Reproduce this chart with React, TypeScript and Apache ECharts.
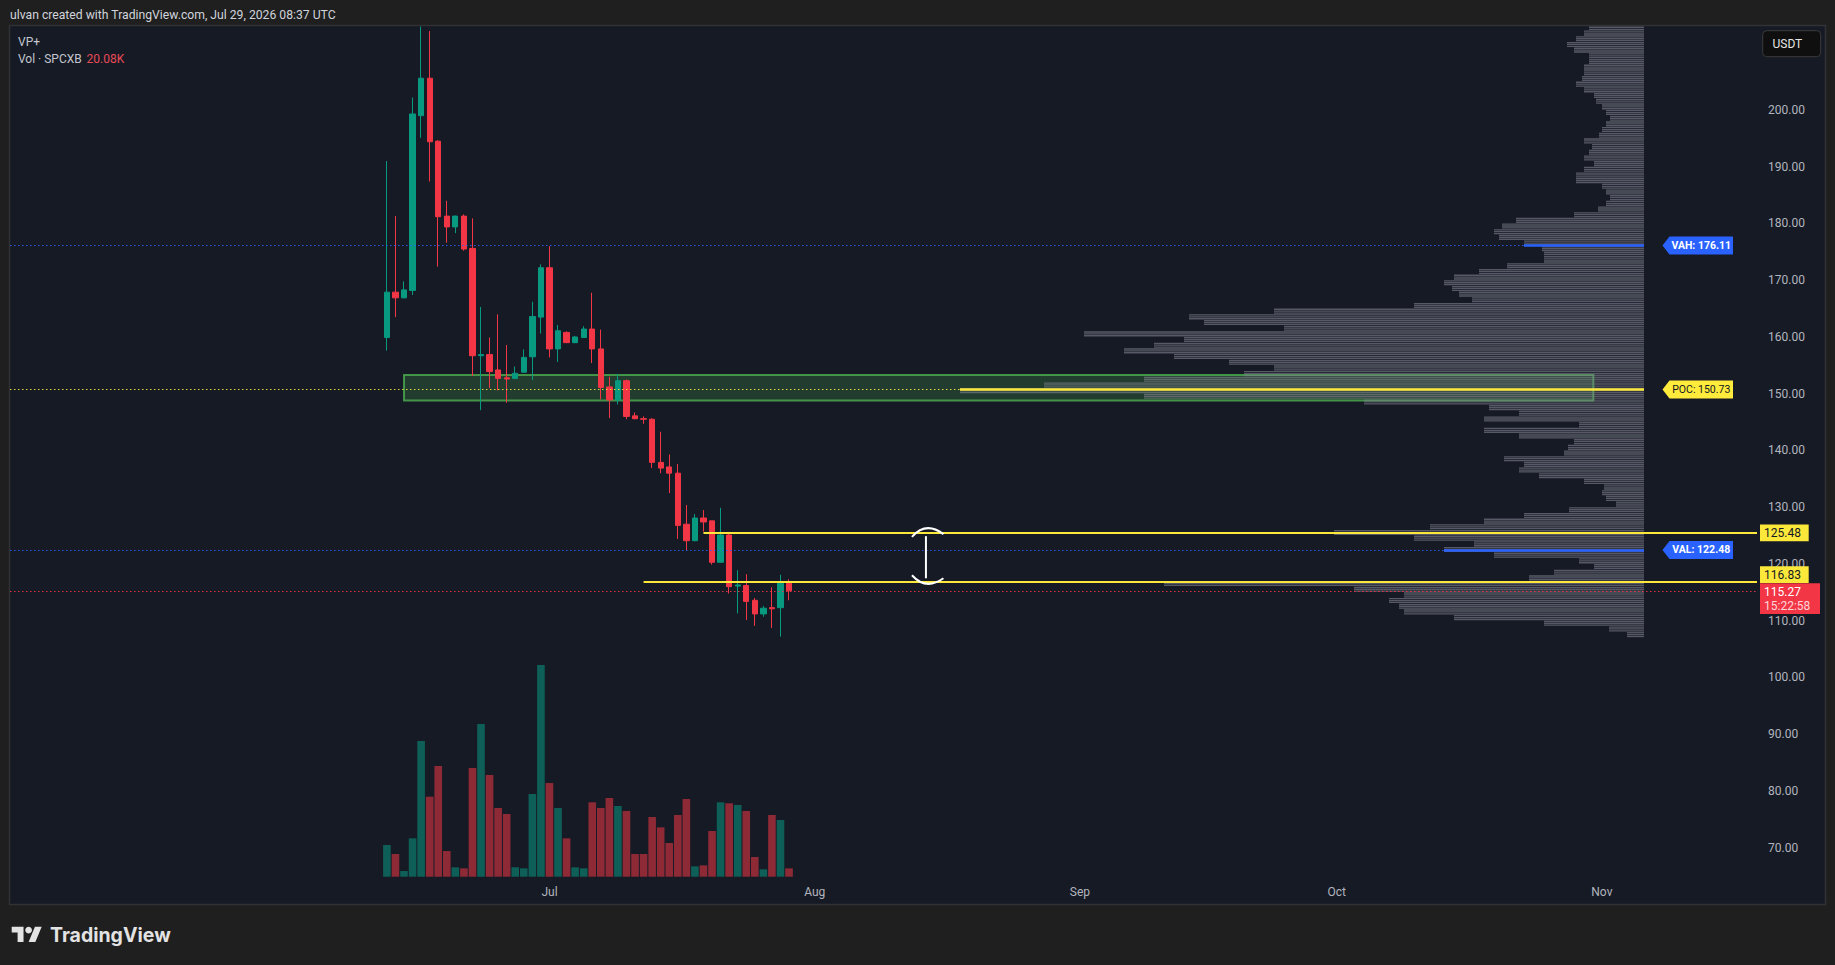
import React, { useEffect, useRef } from "react";
import * as echarts from "echarts";

// ---------- DATA ----------
const FIRST_DAY = "2026-06-12"; // date of the first daily candle
const opens = [159.9, 167.9, 166.9, 168.2, 199.0, 205.6, 194.5, 181.3, 179.4, 181.3, 175.6, 156.7, 156.9, 154.2, 152.8, 152.7, 153.8, 156.5, 163.5, 172.2, 157.9, 160.8, 159.0, 159.9, 161.4, 157.9, 151.2, 148.9, 152.3, 146.1, 145.6, 145.5, 137.9, 137.1, 136.0, 127.0, 124.1, 128.1, 127.6, 120.3, 125.1, 116.1, 116.2, 113.6, 111.2, 112.3, 112.3, 116.6];
const closes = [167.9, 166.9, 168.3, 199.3, 205.6, 194.4, 181.2, 179.4, 181.3, 175.5, 156.7, 156.9, 153.9, 152.7, 152.6, 153.6, 156.4, 163.6, 172.2, 157.9, 161.1, 159.0, 160.0, 161.4, 157.9, 151.1, 148.9, 152.3, 146.0, 145.6, 145.5, 137.9, 136.9, 136.0, 126.8, 124.1, 128.1, 127.4, 120.3, 125.1, 116.0, 116.3, 113.4, 111.2, 112.2, 112.1, 116.6, 115.27];
const lows = [157.6, 163.5, 166.8, 167.4, 195.1, 187.4, 172.4, 176.6, 178.3, 175.2, 153.1, 147.1, 151.0, 150.6, 148.4, 152.6, 153.7, 152.4, 160.6, 156.4, 155.6, 159.0, 158.9, 159.9, 155.4, 149.0, 145.7, 148.1, 145.5, 145.5, 144.7, 136.9, 136.0, 132.5, 124.4, 122.4, 124.0, 125.7, 119.9, 120.3, 114.8, 111.3, 110.1, 109.1, 110.7, 108.7, 107.2, 113.6];
const highs = [191.0, 181.3, 169.8, 202.2, 214.7, 213.9, 194.7, 184.0, 181.4, 181.6, 180.9, 165.3, 159.9, 164.0, 158.6, 154.8, 157.8, 166.2, 172.8, 176.0, 162.1, 161.0, 160.2, 161.9, 167.8, 161.3, 153.0, 153.5, 152.5, 146.7, 146.0, 145.7, 143.3, 139.3, 137.6, 130.4, 128.8, 129.5, 127.6, 129.9, 125.4, 118.9, 118.2, 114.0, 112.6, 115.9, 118.1, 117.3];
const volumesK = [76.3, 54.6, 13.7, 92.4, 326.8, 192.7, 266.6, 61.8, 22.5, 20.1, 261.8, 367.8, 244.9, 165.4, 151.0, 22.5, 20.1, 199.1, 509.9, 225.6, 165.4, 92.3, 22.5, 20.1, 179.1, 165.4, 189.5, 170.2, 158.2, 54.6, 54.6, 143.7, 118.8, 81.1, 148.6, 187.1, 24.9, 27.3, 110.0, 179.1, 176.7, 172.6, 158.2, 47.4, 17.7, 148.6, 136.5, 20.08];

const priceTicks = [70, 80, 90, 100, 110, 120, 130, 140, 150, 160, 170, 180, 190, 200];
const monthStarts = ["2026-07-01", "2026-08-01", "2026-09-01", "2026-10-01", "2026-11-01"];
const monthLabels = ["Jul", "Aug", "Sep", "Oct", "Nov"];

// Volume profile (VP+): rows of 1.0 price starting at PROFILE_BASE, relative volume
const PROFILE_BASE = 107;
const profileVolumes = [
  17, 35, 100, 190, 240, 245, 255, 240, 290, 480, // 107-116
  115, 90, 50, 65, 150, 200, 170, 230, 310, 214, // 117-126
  160, 120, 75, 28, 38, 42, 40, 60, 105, 125, // 127-136
  120, 140, 80, 76, 70, 125, 160, 65, 160, 125, // 137-146
  155, 280, 500, 684, 600, 500, 400, 370, 415, 470, // 147-156
  520, 490, 460, 560, 360, 440, 455, 370, 230, 172, // 157-166
  185, 192, 200, 190, 165, 137, 100, 100, 102, 120, // 167-176
  145, 150, 142, 128, 70, 46, 38, 34, 38, 42, // 177-186
  68, 68, 60, 50, 60, 55, 52, 60, 45, 42, // 187-196
  38, 34, 38, 42, 48, 50, 60, 68, 62, 60, // 197-206
  60, 55, 55, 70, 77, 68, 60, 55, // 207-214
];
const POC = 150.73;
const VAH = 176.11;
const VAL = 122.48;
const LAST_PRICE = 115.27;
const LAST_VOLUME = "20.08K";
const COUNTDOWN = "15:22:58";
const userLevels = [
  { price: 125.48, from: "2026-07-19" },
  { price: 116.83, from: "2026-07-12" },
];
const zone = { from: "2026-06-14", to: "2026-10-31", low: 148.8, high: 153.3 };
const bracket = { date: "2026-08-14", low: 116.83, high: 125.48 };

// ---------- LAYOUT ----------
const W = 1835;
const H = 965;
const PANE = { left: 10, top: 26, right: 1825, bottom: 904 };
const PLOT_RIGHT = 1757;
const PROFILE_RIGHT = 1644;
const POC_SPAN_PX = 684;
const X_MIN = -44.05;
const X_MAX = 160.13;
const Y_MIN = 60.08;
const Y_MAX = 214.8;
const FONT = "Roboto, 'Noto Sans', 'DejaVu Sans', sans-serif";
const UP = "#089981";
const DOWN = "#f23645";
const YELLOW = "#fbe83b";
const BLUE = "#2962ff";

const dayIndex = (iso: string) =>
  (Date.parse(iso + "T00:00:00Z") - Date.parse(FIRST_DAY + "T00:00:00Z")) / 86400000;
const monthDays = monthStarts.map(dayIndex);
const profileRowVol = (price: number) => profileVolumes[Math.floor(price) - PROFILE_BASE];

const LOGO_PATH = "M14 22H7V11H0V4h14v18zM28 22h-8l7.5-18h8L28 22z";
let logoRegistered = false;

export default function App() {
  const ref = useRef<HTMLDivElement>(null);

  useEffect(() => {
    document.body.style.margin = "0";
    document.body.style.background = "#1f1f1f";
    if (!logoRegistered) {
      echarts.graphic.registerShape("tvlogo", echarts.graphic.extendPath(LOGO_PATH, {}));
      logoRegistered = true;
    }
    const chart = echarts.init(ref.current as HTMLDivElement, null, { renderer: "svg" });

    const candleData = opens.map((o, i) => [i, o, closes[i], lows[i], highs[i]]);
    const volumeData = volumesK.map((v, i) => ({
      value: [i, v],
      itemStyle: { color: closes[i] >= opens[i] ? "rgba(8,153,129,0.55)" : "rgba(242,54,69,0.55)" },
    }));
    const profileData = profileVolumes.map((v, i) => [v, PROFILE_BASE + i]);
    const profileAxisMax = Math.max(...profileVolumes) * ((PROFILE_RIGHT - PANE.left) / POC_SPAN_PX);

    const dotted = (color: string) => ({ color, width: 1.2, type: [1.5, 2.5] as any, opacity: 0.9 });
    const vaLine = (price: number, color: string) => [
      { coord: [profileRowVol(price), price], lineStyle: { color, width: 2.5, type: "solid" } },
      { coord: [0, price] },
    ];
    const vaDotted = (price: number, color: string) => [
      { coord: [profileAxisMax, price], lineStyle: dotted(color) },
      { coord: [profileRowVol(price), price] },
    ];

    const option: any = {
      animation: false,
      backgroundColor: "#1f1f1f",
      textStyle: { fontFamily: FONT },
      grid: [
        { left: PANE.left, right: W - PLOT_RIGHT, top: PANE.top, bottom: H - PANE.bottom, outerBoundsMode: "none" },
        { left: PANE.left, right: W - PLOT_RIGHT, top: 640, bottom: 88.3, outerBoundsMode: "none" },
        { left: PANE.left, right: W - PROFILE_RIGHT, top: PANE.top, bottom: H - PANE.bottom, outerBoundsMode: "none" },
      ],
      xAxis: [
        {
          type: "value", gridIndex: 0, min: X_MIN, max: X_MAX,
          axisLine: { show: false }, axisTick: { show: false }, splitLine: { show: false },
          axisLabel: {
            inside: true, margin: 6, color: "#b2b5be", fontSize: 12, fontFamily: FONT,
            customValues: monthDays,
            formatter: (v: number) => {
              const k = monthDays.findIndex((d) => Math.abs(d - v) < 0.01);
              return k >= 0 ? monthLabels[k] : "";
            },
          },
        },
        { type: "value", gridIndex: 1, min: X_MIN, max: X_MAX, show: false },
        { type: "value", gridIndex: 2, min: 0, max: profileAxisMax, inverse: true, show: false },
      ],
      yAxis: [
        {
          type: "value", gridIndex: 0, position: "right", min: Y_MIN, max: Y_MAX,
          axisLine: { show: false }, axisTick: { show: false }, splitLine: { show: false },
          axisLabel: {
            margin: 11, color: "#b2b5be", fontSize: 12, fontFamily: FONT,
            customValues: priceTicks,
            formatter: (v: number) => v.toFixed(2),
          },
        },
        { type: "value", gridIndex: 1, min: 0, max: 570, show: false },
        { type: "value", gridIndex: 2, min: Y_MIN, max: Y_MAX, show: false },
      ],
      series: [
        {
          name: "levels", type: "line", xAxisIndex: 0, yAxisIndex: 0, data: [], z: 1, silent: true,
          markLine: {
            symbol: ["none", "none"], silent: true, label: { show: false },
            data: [
              { yAxis: LAST_PRICE, lineStyle: dotted(DOWN) },
              ...userLevels.map((l) => [
                { coord: [dayIndex(l.from), l.price], lineStyle: { color: YELLOW, width: 2, type: "solid" } },
                { coord: [X_MAX, l.price] },
              ]),
            ],
          },
        },
        {
          name: "SPCXB", type: "candlestick", xAxisIndex: 0, yAxisIndex: 0, z: 2,
          encode: { x: 0, y: [1, 2, 3, 4] },
          data: candleData, barWidth: 5.8, clip: true,
          itemStyle: { color: UP, color0: DOWN, borderColor: UP, borderColor0: DOWN, borderWidth: 1 },
        },
        {
          name: "Vol", type: "bar", xAxisIndex: 1, yAxisIndex: 1, z: 2,
          data: volumeData, barWidth: 7.6,
        },
        {
          name: "VP+", type: "custom", xAxisIndex: 2, yAxisIndex: 2, z: 3, clip: true, silent: true,
          encode: { x: 0, y: 1 },
          data: profileData,
          renderItem: (params: any, api: any) => {
            const v = api.value(0);
            const p = api.value(1);
            const br = api.coord([0, p]);
            const tl = api.coord([v, p + 1]);
            const h = (br[1] - tl[1]) / 3;
            return {
              type: "group",
              children: [0, 1, 2].map((k) => ({
                type: "rect",
                shape: { x: tl[0], y: tl[1] + k * h, width: br[0] - tl[0], height: h * 0.7 },
                style: { fill: "rgba(128,131,142,0.62)" },
              })),
            };
          },
        },
        {
          name: "va", type: "line", xAxisIndex: 2, yAxisIndex: 2, data: [], z: 5, silent: true,
          markLine: {
            symbol: ["none", "none"], silent: true, label: { show: false },
            data: [
              vaDotted(VAH, BLUE), vaDotted(POC, YELLOW), vaDotted(VAL, BLUE),
              vaLine(VAH, BLUE), vaLine(POC, YELLOW), vaLine(VAL, BLUE),
            ],
          },
        },
        {
          name: "zone", type: "line", xAxisIndex: 0, yAxisIndex: 0, data: [], z: 4, silent: true,
          markArea: {
            silent: true,
            itemStyle: { color: "rgba(76,175,80,0.24)", borderColor: "rgba(76,175,80,0.8)", borderWidth: 2 },
            data: [[
              { coord: [dayIndex(zone.from), zone.high] },
              { coord: [dayIndex(zone.to), zone.low] },
            ]],
          },
        },
        {
          name: "bracket", type: "custom", xAxisIndex: 0, yAxisIndex: 0, z: 6, silent: true,
          encode: { x: 0, y: [1, 2] },
          data: [[dayIndex(bracket.date), bracket.low, bracket.high]],
          renderItem: (params: any, api: any) => {
            const a = api.coord([api.value(0), api.value(1)]);
            const b = api.coord([api.value(0), api.value(2)]);
            const x = a[0];
            const yLow = a[1];
            const yHigh = b[1];
            const st = { stroke: "#ffffff", lineWidth: 2, fill: "none" };
            return {
              type: "group",
              children: [
                { type: "line", shape: { x1: x, y1: yHigh + 3.3, x2: x, y2: yLow - 3.7 }, style: st },
                { type: "bezierCurve", shape: { x1: x - 14, y1: yHigh + 4, cpx1: x, cpy1: yHigh - 12, x2: x + 17.5, y2: yHigh + 1.3 }, style: st },
                { type: "bezierCurve", shape: { x1: x - 14, y1: yLow - 6.7, cpx1: x, cpy1: yLow + 8.8, x2: x + 17.5, y2: yLow - 3.7 }, style: st },
              ],
            };
          },
        },
      ],
      graphic: [
        {
          type: "rect", z: -10, silent: true,
          shape: { x: PANE.left - 0.5, y: PANE.top - 0.5, width: PANE.right - PANE.left + 1, height: PANE.bottom - PANE.top + 1 },
          style: { fill: "#161a25", stroke: "#303236", lineWidth: 1.5 },
        },
      ],
    };
    chart.setOption(option);

    const yPx = (p: number) => chart.convertToPixel({ yAxisIndex: 0 }, p) as number;
    const txt = (x: number, y: number, text: string, color: string, size: number, extra: any = {}) => ({
      type: "text", z: 100, silent: true, x, y,
      style: { text, fill: color, fontSize: size, fontFamily: FONT, verticalAlign: "middle", ...extra },
    });
    const pill = (price: number, label: string, bg: string, fg: string, bold: boolean) => {
      const yc = yPx(price);
      const x0 = 1662.5;
      const x1 = 1733;
      return [
        {
          type: "polygon", z: 100, silent: true,
          shape: { points: [[x0, yc], [x0 + 7, yc - 9], [x1, yc - 9], [x1, yc + 9], [x0 + 7, yc + 9]] },
          style: { fill: bg },
        },
        txt((x0 + 7 + x1) / 2, yc, label, fg, 10.5, { align: "center", fontWeight: bold ? "bold" : "normal" }),
      ];
    };
    // last price box, and level boxes pushed above it when they would collide
    const yLast = yPx(LAST_PRICE);
    const lastTop = yLast - 7.5;
    const BOX_H = 16.7;
    const levelBoxes = userLevels.flatMap((l) => {
      let yc = yPx(l.price);
      if (yc + BOX_H / 2 > lastTop && yc - BOX_H / 2 < lastTop + 30.7) yc = lastTop - BOX_H / 2 - 0.4;
      return [
        { type: "rect", z: 100, silent: true, shape: { x: 1760, y: yc - BOX_H / 2, width: 48.7, height: BOX_H }, style: { fill: YELLOW } },
        txt(1764, yc + 0.5, l.price.toFixed(2), "#131722", 12),
      ];
    });

    chart.setOption({
      graphic: [
        option.graphic[0],
        // header
        txt(10, 15, "ulvan created with TradingView.com, Jul 29, 2026 08:37 UTC", "#d1d4dc", 12.2),
        // legend
        txt(18, 42.3, "VP+", "#c3c6ce", 12),
        txt(18, 59.3, "Vol · SPCXB", "#c3c6ce", 12),
        txt(86.5, 59.3, LAST_VOLUME, "#e84b57", 12),
        // currency box
        {
          type: "rect", z: 100, silent: true,
          shape: { x: 1762.7, y: 30.7, width: 58, height: 26, r: 4 },
          style: { fill: "#0f0f10", stroke: "#3a3a3c", lineWidth: 1 },
        },
        txt(1772.5, 43.7, "USDT", "#e6e6e6", 12),
        // VP+ labels
        ...pill(VAH, "VAH: " + VAH.toFixed(2), BLUE, "#ffffff", true),
        ...pill(POC, "POC: " + POC.toFixed(2), "#ffeb3b", "#131722", false),
        ...pill(VAL, "VAL: " + VAL.toFixed(2), BLUE, "#ffffff", true),
        // user level boxes on the price axis
        ...levelBoxes,
        // last price
        { type: "rect", z: 100, silent: true, shape: { x: 1760, y: lastTop, width: 60, height: 30.7 }, style: { fill: DOWN } },
        txt(1764, yLast + 0.8, LAST_PRICE.toFixed(2), "#ffffff", 12),
        txt(1764, yLast + 15.3, COUNTDOWN, "#ffd6da", 12),
        // TradingView logo
        { type: "tvlogo", z: 100, silent: true, x: 11.7, y: 923.3, scaleX: 0.845, scaleY: 0.845, style: { fill: "#e3e3e3" } },
        { type: "circle", z: 100, silent: true, shape: { cx: 11.7 + 20 * 0.845, cy: 923.3 + 8 * 0.845, r: 4 * 0.845 }, style: { fill: "#e3e3e3" } },
        txt(50, 935, "TradingView", "#e3e3e3", 19.5, { fontWeight: "bold", fontFamily: "Inter, Roboto, sans-serif" }),
      ],
    });

    return () => chart.dispose();
  }, []);

  return <div ref={ref} style={{ position: "absolute", left: 0, top: 0, width: W, height: H }} />;
}
